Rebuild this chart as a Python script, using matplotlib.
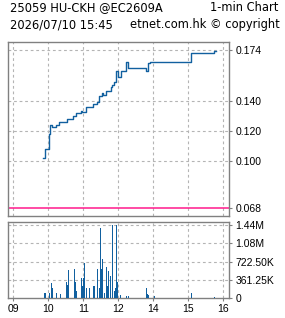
import numpy as np
import matplotlib.pyplot as plt

# x axis = minutes after 09:00 with the lunch hour cut out (so 14:00 -> 240)
hour_pos = [0, 60, 120, 180, 240, 300, 360]
hour_labels = ['09', '10', '11', '12', '14', '15', '16']

# last price, step line
price_min = [51, 54, 62, 63, 67, 73, 79, 92, 103, 107, 116, 118, 124, 136, 143,
             147, 152, 154, 159, 167, 170, 173, 176, 180, 184, 193, 197, 228,
             231, 234, 305, 345, 347]
price = [0.102, 0.108, 0.118, 0.124, 0.1225, 0.124, 0.126, 0.128, 0.1295, 0.132,
         0.1333, 0.1327, 0.136, 0.1375, 0.139, 0.143, 0.1455, 0.144, 0.1467,
         0.149, 0.1505, 0.1527, 0.160, 0.156, 0.160, 0.166, 0.1622, 0.160,
         0.165, 0.1662, 0.1722, 0.1733, 0.1733]
ref_price = 0.068

price_ticks = [0.068, 0.100, 0.120, 0.140, 0.174]
price_grid = [0.100, 0.120, 0.140, 0.174]

# volume per minute
vol_min = [52, 54, 61, 65, 66, 73, 80, 90, 92, 94, 104, 106, 108, 116, 118, 119,
           121, 125, 130, 137, 138, 144, 147, 149, 150, 152, 156, 159, 161, 162,
           166, 169, 173, 174, 176, 178, 183, 193, 197, 228, 229, 231, 241, 305, 344]
vol = [100e3, 100e3, 100e3, 300e3, 200e3, 100e3, 80e3, 320e3, 250e3, 560e3,
       580e3, 320e3, 140e3, 400e3, 240e3, 400e3, 700e3, 200e3, 200e3, 240e3,
       240e3, 580e3, 200e3, 1385e3, 580e3, 780e3, 100e3, 620e3, 240e3, 540e3,
       440e3, 1445e3, 140e3, 200e3, 1445e3, 320e3, 60e3, 40e3, 40e3, 200e3,
       80e3, 60e3, 40e3, 100e3, 20e3]
vol_ticks = [0, 361250, 722500, 1083750, 1445000]
vol_labels = ['0', '361.25K', '722.50K', '1.08M', '1.44M']

blue = '#11609f'
pink = '#ff1a8c'
grid_c = '#b4b4b4'
spine_c = '#808080'
W, H = 285, 318

fig = plt.figure(figsize=(W / 100, H / 100), dpi=100)
ax = fig.add_axes([8 / W, 1 - 216 / H, 221 / W, 174 / H])
axv = fig.add_axes([8 / W, 1 - 298 / H, 221 / W, 76 / H])

xlim = (-9, 370)

# price panel
for y in price_grid:
    ax.axhline(y, color=grid_c, lw=0.8, dashes=(2.5, 2.5), zorder=1)
for x in hour_pos:
    ax.axvline(x, color=grid_c, lw=0.8, dashes=(2.5, 2.5), zorder=1)
ax.axhline(ref_price, color=pink, lw=1.1, zorder=2)
ax.step(price_min, price, where='post', color=blue, lw=1.0, zorder=3)
ax.set_xlim(*xlim)
ax.set_ylim(0.0629, 0.1793)
ax.set_xticks([])
ax.yaxis.tick_right()
ax.set_yticks(price_ticks)
ax.set_yticklabels(['%.3f' % t for t in price_ticks])

# volume panel
for y in vol_ticks[1:]:
    axv.axhline(y, color=grid_c, lw=0.8, dashes=(2.5, 2.5), zorder=1)
for x in hour_pos:
    axv.axvline(x, color=grid_c, lw=0.8, dashes=(2.5, 2.5), zorder=1)
axv.vlines(vol_min, 0, vol, color=blue, lw=0.72, antialiased=False, zorder=3)
axv.set_xlim(*xlim)
axv.set_ylim(0, 1.505e6)
axv.yaxis.tick_right()
axv.set_yticks(vol_ticks)
axv.set_yticklabels(vol_labels)
axv.set_xticks(hour_pos)
axv.set_xticklabels(hour_labels)

for a in (ax, axv):
    for s in a.spines.values():
        s.set_color(spine_c)
        s.set_linewidth(1.0)
    a.tick_params(colors='black', labelsize=7.5, length=2, width=0.8, pad=2.5)
    a.tick_params(axis='both', color=spine_c)
    for lab in a.get_xticklabels() + a.get_yticklabels():
        lab.set_family('Liberation Sans')

# header
fs = 8.3
fig.text(10 / W, 1 - 7.5 / H, '25059 HU-CKH @EC2609A', fontsize=fs, va='center', ha='left')
fig.text(278 / W, 1 - 7.5 / H, '1-min Chart', fontsize=fs, va='center', ha='right')
fig.text(10 / W, 1 - 24.5 / H, '2026/07/10 15:45', fontsize=fs, va='center', ha='left')
fig.text(280 / W, 1 - 24.5 / H, 'etnet.com.hk \u00a9 copyright', fontsize=fs, va='center', ha='right')

fig.savefig('out.png', dpi=100)
